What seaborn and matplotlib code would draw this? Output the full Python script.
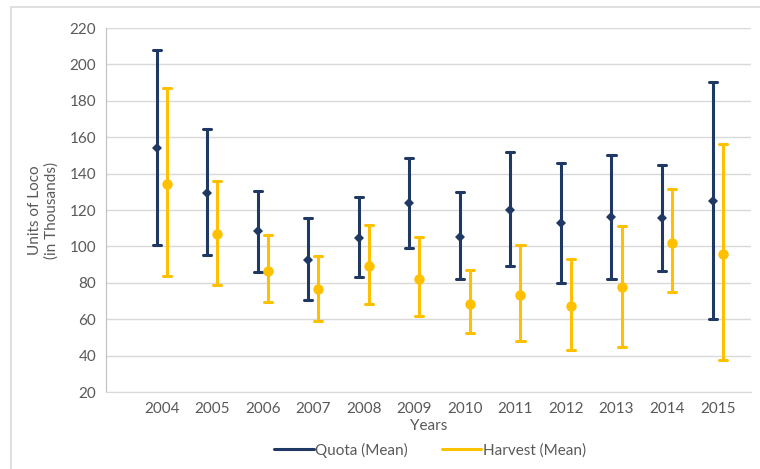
import numpy as np
import pandas as pd
import seaborn as sns
from matplotlib import pyplot as plt
from matplotlib.lines import Line2D
from matplotlib.patches import Rectangle

years = ["2004", "2005", "2006", "2007", "2008", "2009",
         "2010", "2011", "2012", "2013", "2014", "2015"]

# quota: low / mean / high (thousands)
quota_low = [101, 95, 86, 70.5, 83, 99, 82, 89, 80, 82, 86.5, 60]
quota_mean = [154, 129.5, 108.5, 92.5, 104.5, 124, 105, 120, 113, 116, 115.5, 125]
quota_high = [208, 164.5, 130.5, 115.5, 127, 148.5, 130, 152, 146, 150, 144.5, 190.5]

# harvest: low / mean / high (thousands)
harvest_low = [83.5, 79, 69.5, 59, 68.5, 61.5, 52.5, 48, 43, 44.5, 75, 37.5]
harvest_mean = [134.5, 107, 86.5, 76.5, 89, 82, 68.5, 73.5, 67, 77.5, 102, 96]
harvest_high = [187, 136, 106.5, 94.5, 112, 105, 87, 101, 93, 111, 131.5, 156.5]

series = ["Quota (Mean)", "Harvest (Mean)"]
colors = ["#1F3864", "#FFC000"]

rows = []
for name, lo, mid, hi in [(series[0], quota_low, quota_mean, quota_high),
                          (series[1], harvest_low, harvest_mean, harvest_high)]:
    for y, a, b, c in zip(years, lo, mid, hi):
        for v in (a, b, c):
            rows.append({"Year": y, "Series": name, "Value": v})
df = pd.DataFrame(rows)

sns.set_style("white")
plt.rcParams["font.family"] = ["Lato", "DejaVu Sans"]
text_color = "#595959"

fig = plt.figure(figsize=(7.6, 4.69), dpi=100)
ax = fig.add_axes([106 / 760, 1 - 392 / 469, (751 - 106) / 760, (392 - 28) / 469])

# median of (low, mean, high) is the mean; 100% interval spans low..high
sns.pointplot(data=df, x="Year", y="Value", hue="Series", order=years,
              hue_order=series, palette=colors, estimator="median",
              errorbar=("pi", 100), dodge=0.2, linestyle="none",
              markers=["D", "o"], capsize=0.16,
              err_kws={"linewidth": 2.2}, legend=False, ax=ax)

# small diamonds, slightly larger circles
for line in ax.lines:
    if line.get_marker() == "o":
        line.set_markersize(7.5)
        line.set_markeredgewidth(0)
    elif line.get_marker() == "D":
        line.set_markersize(5.5)
        line.set_markeredgewidth(0)

ax.set_ylim(20, 220)
ax.set_yticks(np.arange(20, 221, 20))
ax.set_xlim(-1.1, 11.66)
ax.yaxis.grid(True, color="#D9D9D9", linewidth=1)
ax.set_axisbelow(True)
for s in ["top", "right"]:
    ax.spines[s].set_visible(False)
ax.spines["left"].set_color("#BFBFBF")
ax.spines["bottom"].set_color("#D9D9D9")
ax.tick_params(length=0, labelsize=11, colors=text_color, pad=7)
ax.set_xlabel("Years", fontsize=11, color=text_color, labelpad=2)
ax.set_ylabel("Units of Loco\n(in Thousands)", fontsize=11, color=text_color, labelpad=8)

handles = [Line2D([], [], color=c, linewidth=2.2) for c in colors]
fig.legend(handles, series, loc="center", bbox_to_anchor=(430 / 760, 1 - 450 / 469),
           ncol=2, frameon=False, fontsize=11, labelcolor=text_color,
           handlelength=2.6, handletextpad=0.1, columnspacing=2.2)

# chart area border
fig.patches.append(Rectangle((11 / 760, -0.1), 2, 1 - 7 / 469 + 0.1, transform=fig.transFigure,
                             facecolor="none", edgecolor="#D9D9D9", linewidth=1.2))

fig.savefig("out.png", dpi=100)
